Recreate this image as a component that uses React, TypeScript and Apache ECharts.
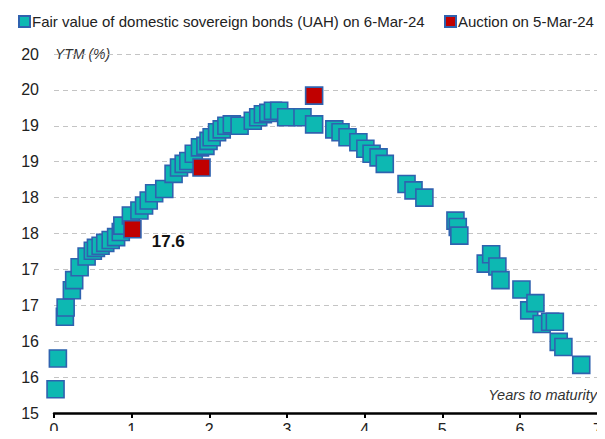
import React, { useEffect, useRef } from "react";
import * as echarts from "echarts";

const fairValue: [number, number][] = [
  [0.02, 15.33], [0.05, 15.76], [0.14, 16.34], [0.15, 16.47], [0.23, 16.71], [0.26, 16.85],
  [0.33, 17.03], [0.42, 17.18], [0.5, 17.26], [0.54, 17.3], [0.6, 17.33], [0.66, 17.37],
  [0.73, 17.41], [0.8, 17.45], [0.86, 17.52], [0.88, 17.61], [0.99, 17.75], [1.1, 17.82],
  [1.16, 17.89], [1.22, 17.96], [1.29, 18.06], [1.42, 18.12], [1.54, 18.33], [1.61, 18.42],
  [1.67, 18.47], [1.73, 18.51], [1.8, 18.61], [1.88, 18.7], [1.95, 18.72], [1.99, 18.79],
  [2.03, 18.84], [2.1, 18.91], [2.16, 18.95], [2.22, 19.0], [2.29, 19.02], [2.39, 19.0],
  [2.56, 19.07], [2.63, 19.12], [2.69, 19.16], [2.76, 19.18], [2.82, 19.21], [2.9, 19.21],
  [2.99, 19.12], [3.2, 19.12], [3.35, 19.02], [3.61, 18.95], [3.69, 18.91], [3.78, 18.84],
  [3.92, 18.77], [4.01, 18.68], [4.09, 18.61], [4.18, 18.56], [4.26, 18.47], [4.54, 18.19],
  [4.63, 18.1], [4.77, 18.0], [5.17, 17.68], [5.2, 17.59], [5.22, 17.47], [5.56, 17.08],
  [5.63, 17.21], [5.71, 17.04], [5.75, 16.85], [6.02, 16.72], [6.12, 16.43], [6.2, 16.53],
  [6.28, 16.24], [6.39, 16.27], [6.45, 16.27], [6.5, 15.99], [6.56, 15.92], [6.79, 15.67],
];

const auction: [number, number][] = [
  [1.01, 17.56], [1.9, 18.42], [3.35, 19.42],
];

const labelledAuctionIndex = 0;

const seriesNames = [
  "Fair value of domestic sovereign bonds (UAH) on 6-Mar-24",
  "Auction on 5-Mar-24",
];

const xTicks = { min: 0, max: 7, interval: 1 };
const yTicks = { min: 15, max: 20, interval: 0.5 };

const FONT = "'Liberation Sans', Arial, sans-serif";

export default function App() {
  const ref = useRef<HTMLDivElement>(null);
  useEffect(() => {
    if (!ref.current) return;
    const chart = echarts.init(ref.current, null, { renderer: "svg" });
    const legendCommon = {
      top: 14,
      padding: 0,
      itemWidth: 11,
      itemHeight: 11,
      icon: "rect",
      textStyle: { fontFamily: FONT, fontSize: 15, color: "#222", padding: [0, 0, 0, -3] },
    };
    chart.setOption({
      animation: false,
      textStyle: { fontFamily: FONT },
      legend: [
        { ...legendCommon, left: 18, data: [seriesNames[0]] },
        { ...legendCommon, left: 444, data: [seriesNames[1]] },
      ],
      grid: { left: 54, right: 2, top: 54, bottom: 26, containLabel: false },
      xAxis: {
        type: "value",
        min: xTicks.min,
        max: xTicks.max,
        interval: xTicks.interval,
        axisLine: { show: true, lineStyle: { color: "#000", width: 2.5 } },
        axisTick: { show: true, length: 5, lineStyle: { color: "#000", width: 2 } },
        axisLabel: { fontFamily: FONT, fontSize: 16, color: "#222", margin: 8 },
        splitLine: { show: false },
      },
      yAxis: {
        type: "value",
        min: yTicks.min,
        max: yTicks.max,
        interval: yTicks.interval,
        axisLine: { show: false },
        axisTick: { show: false },
        axisLabel: {
          fontFamily: FONT,
          fontSize: 16,
          color: "#222",
          margin: 15,
          formatter: (v: number) => String(Math.round(v)),
        },
        splitLine: { show: true, lineStyle: { color: "#c4c4c4", type: [5, 4], width: 1 } },
      },
      graphic: [
        {
          type: "text",
          x: 55,
          y: 54,
          style: {
            text: "YTM (%)",
            font: `italic 14px ${FONT}`,
            fill: "#333",
            textAlign: "left",
            textVerticalAlign: "middle",
          },
        },
        {
          type: "text",
          x: 597,
          y: 395,
          style: {
            text: "Years to maturity",
            font: `italic 14.5px ${FONT}`,
            fill: "#333",
            textAlign: "right",
            textVerticalAlign: "middle",
          },
        },
      ],
      series: [
        {
          name: seriesNames[0],
          type: "scatter",
          symbol: "rect",
          symbolSize: 17,
          itemStyle: { color: "#0DB8B2", borderColor: "#2F62AF", borderWidth: 1.6, opacity: 1 },
          data: fairValue,
        },
        {
          name: seriesNames[1],
          type: "scatter",
          symbol: "rect",
          symbolSize: 17,
          itemStyle: { color: "#C00000", borderColor: "#2F62AF", borderWidth: 1.6, opacity: 1 },
          data: auction.map((d, i) =>
            i === labelledAuctionIndex
              ? {
                  value: d,
                  label: {
                    show: true,
                    position: "right",
                    distance: 10,
                    offset: [0, 12],
                    formatter: (p: any) => p.value[1].toFixed(1),
                    fontFamily: FONT,
                    fontWeight: "bold",
                    fontSize: 17,
                    color: "#111",
                  },
                }
              : { value: d }
          ),
        },
      ],
    });
    return () => chart.dispose();
  }, []);
  return <div ref={ref} style={{ width: 605, height: 439, margin: -8 }} />;
}
